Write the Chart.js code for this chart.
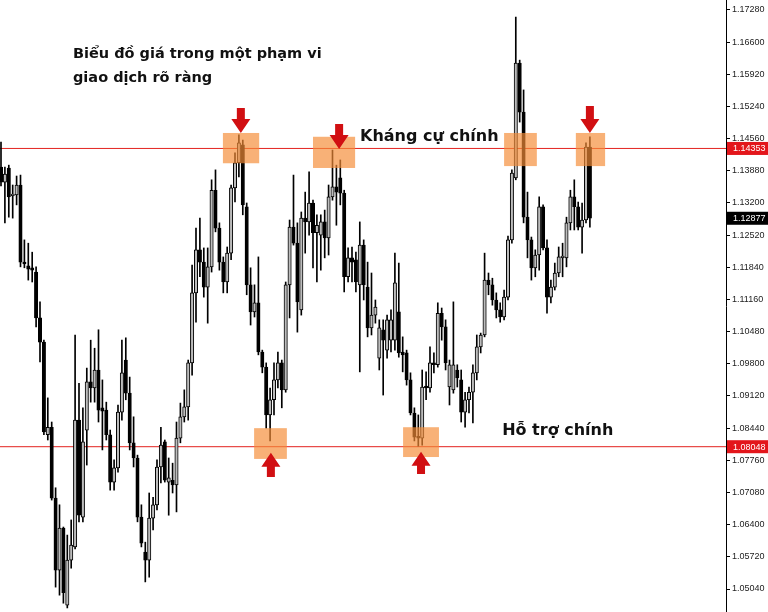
<!DOCTYPE html>
<html>
<head>
<meta charset="utf-8">
<script src="https://cdn.jsdelivr.net/npm/chart.js@4.4.1/dist/chart.umd.min.js"></script>
<style>
  html, body { margin: 0; padding: 0; background: #fff; }
  #wrap { width: 768px; height: 612px; }
</style>
</head>
<body>
<div id="wrap"><canvas id="chart" width="768" height="612"></canvas></div>
<script>
// OHLC, one entry per candle (left to right)
var opens = [
    1.1396,1.1364,1.1394,1.1335,1.1337,1.1358,1.1195,1.1187,1.1183,1.1174,
    1.1077,1.1026,1.0830,1.0846,1.0696,1.0544,1.0633,1.0470,1.0565,1.0593,
    1.0861,1.0656,1.0840,1.0942,1.0929,1.0967,1.0887,1.0882,1.0830,1.0730,
    1.0760,1.0878,1.0988,1.0918,1.0813,1.0781,1.0656,1.0582,1.0565,1.0654,
    1.0682,1.0762,1.0815,1.0730,1.0734,1.0724,1.0823,1.0868,1.0889,1.0982,
    1.1130,1.1221,1.1195,1.1142,1.1185,1.1347,1.1267,1.1195,1.1153,1.1214,
    1.1352,1.1405,1.1443,1.1312,1.1147,1.1090,1.1109,1.1005,1.0973,1.0872,
    1.0904,1.0946,1.0982,1.0925,1.1147,1.1269,1.1235,1.1094,1.1288,1.1280,
    1.1320,1.1257,1.1252,1.1280,1.1246,1.1333,1.1354,1.1373,1.1341,1.1164,
    1.1204,1.1200,1.1147,1.1231,1.1142,1.1056,1.1083,1.0992,1.1052,1.1009,
    1.1030,1.1030,1.1090,1.1005,1.1003,1.0946,1.0876,1.0827,1.0823,1.0933,
    1.0929,1.0982,1.0978,1.1087,1.1058,1.0931,1.0925,1.0967,1.0946,1.0878,
    1.0904,1.0920,1.0961,1.1016,1.1041,1.1157,1.1147,1.1115,1.1094,1.1079,
    1.1121,1.1242,1.1373,1.1616,1.1512,1.1290,1.1242,1.1183,1.1210,1.1312,
    1.1225,1.1121,1.1142,1.1172,1.1204,1.1204,1.1278,1.1333,1.1312,1.1269,
    1.1284,1.1438
];
var highs = [
    1.1449,1.1396,1.1400,1.1358,1.1377,1.1379,1.1242,1.1235,1.1216,1.1185,
    1.1111,1.1030,1.0908,1.0857,1.0718,1.0682,1.0635,1.0618,1.0650,1.1041,
    1.0939,1.0887,1.0971,1.1030,1.1013,1.1052,1.0946,1.0899,1.0840,1.0777,
    1.0893,1.1030,1.1035,1.0952,1.0868,1.0787,1.0682,1.0603,1.0707,1.0698,
    1.0777,1.0846,1.0819,1.0781,1.0770,1.0857,1.0897,1.0925,1.0988,1.1189,
    1.1267,1.1288,1.1225,1.1225,1.1369,1.1390,1.1278,1.1206,1.1227,1.1358,
    1.1426,1.1464,1.1453,1.1320,1.1183,1.1147,1.1206,1.1009,1.0982,1.0929,
    1.0982,1.1005,1.0988,1.1153,1.1284,1.1379,1.1278,1.1301,1.1343,1.1386,
    1.1326,1.1295,1.1295,1.1305,1.1358,1.1432,1.1400,1.1411,1.1347,1.1225,
    1.1227,1.1216,1.1280,1.1242,1.1195,1.1172,1.1115,1.1073,1.1073,1.1083,
    1.1094,1.1214,1.1193,1.1037,1.1009,1.0961,1.0887,1.0872,1.0967,1.0963,
    1.1016,1.1003,1.1109,1.1098,1.1073,1.0988,1.1111,1.0978,1.0967,1.0920,
    1.0931,1.0978,1.1041,1.1045,1.1214,1.1172,1.1161,1.1130,1.1109,1.1136,
    1.1250,1.1390,1.1713,1.1622,1.1559,1.1343,1.1248,1.1221,1.1333,1.1316,
    1.1242,1.1157,1.1193,1.1227,1.1235,1.1290,1.1347,1.1369,1.1322,1.1320,
    1.1447,1.1460
];
var lows = [
    1.1356,1.1278,1.1290,1.1288,1.1316,1.1185,1.1183,1.1157,1.1153,1.1058,
    1.0984,1.0830,1.0819,1.0692,1.0508,1.0491,1.0474,1.0464,1.0548,1.0589,
    1.0646,1.0646,1.0766,1.0899,1.0899,1.0857,1.0798,1.0819,1.0713,1.0713,
    1.0751,1.0861,1.0904,1.0798,1.0762,1.0646,1.0593,1.0519,1.0529,1.0629,
    1.0671,1.0728,1.0730,1.0660,1.0707,1.0667,1.0813,1.0857,1.0861,1.0956,
    1.1068,1.1164,1.1121,1.1066,1.1174,1.1259,1.1178,1.1130,1.1130,1.1200,
    1.1322,1.1375,1.1295,1.1126,1.1062,1.1079,1.0999,1.0961,1.0844,1.0817,
    1.0872,1.0929,1.0887,1.0920,1.1077,1.1231,1.1047,1.1083,1.1214,1.1252,
    1.1183,1.1153,1.1178,1.1204,1.1210,1.1326,1.1273,1.1316,1.1132,1.1153,
    1.1153,1.1132,1.0963,1.1115,1.1037,1.1041,1.1066,1.0967,1.0914,1.0992,
    1.1005,1.1009,1.0994,1.0963,1.0935,1.0872,1.0817,1.0806,1.0808,1.0904,
    1.0920,1.0961,1.0973,1.1030,1.0967,1.0893,1.0918,1.0931,1.0857,1.0846,
    1.0876,1.0855,1.0946,1.1003,1.1037,1.1126,1.1104,1.1077,1.1068,1.1073,
    1.1115,1.1235,1.1369,1.1491,1.1278,1.1204,1.1157,1.1164,1.1178,1.1221,
    1.1087,1.1109,1.1136,1.1164,1.1164,1.1185,1.1263,1.1263,1.1263,1.1214,
    1.1278,1.1269
];
var closes = [
    1.1364,1.1381,1.1333,1.1339,1.1358,1.1195,1.1191,1.1180,1.1178,1.1077,
    1.1026,1.0836,1.0846,1.0696,1.0544,1.0633,1.0496,1.0565,1.0597,1.0861,
    1.0660,1.0815,1.0942,1.0929,1.0967,1.0882,1.0880,1.0830,1.0730,1.0760,
    1.0878,1.0961,1.0918,1.0813,1.0781,1.0656,1.0601,1.0565,1.0654,1.0682,
    1.0762,1.0808,1.0734,1.0739,1.0724,1.0823,1.0868,1.0889,1.0982,1.1130,
    1.1221,1.1195,1.1142,1.1185,1.1347,1.1267,1.1195,1.1153,1.1214,1.1352,
    1.1405,1.1447,1.1316,1.1147,1.1090,1.1109,1.1005,1.0973,1.0872,1.0904,
    1.0946,1.0982,1.0925,1.1147,1.1269,1.1235,1.1111,1.1288,1.1280,1.1320,
    1.1257,1.1273,1.1280,1.1246,1.1333,1.1354,1.1343,1.1341,1.1164,1.1204,
    1.1195,1.1153,1.1231,1.1147,1.1056,1.1083,1.1100,1.1056,1.1030,1.1073,
    1.1073,1.1151,1.1003,1.0999,1.0946,1.0876,1.0825,1.0823,1.0931,1.0929,
    1.0982,1.0978,1.1087,1.1058,1.0982,1.0978,1.0978,1.0950,1.0878,1.0904,
    1.0920,1.0961,1.1016,1.1041,1.1157,1.1147,1.1115,1.1094,1.1079,1.1121,
    1.1242,1.1383,1.1616,1.1512,1.1290,1.1242,1.1183,1.1210,1.1312,1.1225,
    1.1121,1.1142,1.1172,1.1206,1.1208,1.1278,1.1333,1.1312,1.1269,1.1284,
    1.1438,1.12877
];

// price axis
var yTicks = [1.05040,1.05720,1.06400,1.07080,1.07760,1.08440,1.09120,1.09800,1.10480,
              1.11160,1.11840,1.12520,1.13200,1.13880,1.14560,1.15240,1.15920,1.16600,1.17280];
var yMin = 1.04554;
var yMax = 1.17491;
var xMin = -0.256;
var xMax = 185.9;

// levels
var resistance = 1.14353;
var support = 1.08048;
var lastPrice = 1.12877;

// notes drawn on top: [candle from, candle to, price top, price bottom]
var zones = [
    [56.9, 66.2, 1.1468, 1.1404],
    [80.0, 90.8, 1.1460, 1.1394],
    [129.0, 137.4, 1.1468, 1.1398],
    [147.4, 154.9, 1.1468, 1.1398],
    [64.9, 73.3, 1.0844, 1.0779],
    [103.1, 112.3, 1.0846, 1.0783]
];
// [candle, tip price, tail price]
var arrows = [
    [61.5, 1.1468, 1.1521],
    [86.7, 1.1434, 1.1487],
    [151.0, 1.1468, 1.1525],
    [69.2, 1.0792, 1.0741],
    [107.7, 1.0794, 1.0747]
];
// [text, candle, price(baseline), size]
var notes = [
    ["Biểu đồ giá trong một phạm vi", 18.46, 1.16265, 14.5],
    ["giao dịch rõ ràng", 18.46, 1.15758, 14.5],
    ["Kháng cự chính", 92.05, 1.1451, 16],
    ["Hỗ trợ chính", 128.5, 1.0830, 16]
];

var tickFont = {family: "Liberation Sans", size: 9};

var bodies = opens.map(function (o, i) { return {x: i, y: [o, closes[i]]}; });
var wicks = opens.map(function (o, i) { return {x: i, y: [lows[i], highs[i]]}; });

function levelLine(v) {
    return [{x: xMin, y: v}, {x: xMax, y: v}];
}

var overlay = {
    id: 'overlay',
    afterDatasetsDraw: function (chart) {
        var ctx = chart.ctx;
        var x = chart.scales.x, y = chart.scales.y;
        ctx.save();

        ctx.fillStyle = 'rgba(245,140,55,0.68)';
        zones.forEach(function (z) {
            var x0 = x.getPixelForValue(z[0]), x1 = x.getPixelForValue(z[1]);
            var y0 = y.getPixelForValue(z[2]), y1 = y.getPixelForValue(z[3]);
            ctx.fillRect(x0, y0, x1 - x0, y1 - y0);
        });

        ctx.fillStyle = '#d10f12';
        arrows.forEach(function (a) {
            var cx = x.getPixelForValue(a[0]);
            var tip = y.getPixelForValue(a[1]);
            var tail = y.getPixelForValue(a[2]);
            var d = tail > tip ? 1 : -1;
            var base = tip + d * 14;
            ctx.beginPath();
            ctx.moveTo(cx - 4, tail);
            ctx.lineTo(cx + 4, tail);
            ctx.lineTo(cx + 4, base);
            ctx.lineTo(cx + 9.5, base);
            ctx.lineTo(cx, tip);
            ctx.lineTo(cx - 9.5, base);
            ctx.lineTo(cx - 4, base);
            ctx.closePath();
            ctx.fill();
        });

        ctx.fillStyle = '#111';
        ctx.textBaseline = 'alphabetic';
        ctx.textAlign = 'left';
        notes.forEach(function (n) {
            ctx.font = 'bold ' + n[3] + 'px "DejaVu Sans"';
            ctx.fillText(n[0], x.getPixelForValue(n[1]), y.getPixelForValue(n[2]));
        });
        ctx.restore();
    },
    afterDraw: function (chart) {
        var ctx = chart.ctx;
        var y = chart.scales.y;
        var left = chart.chartArea.right + 1;
        ctx.save();
        ctx.font = tickFont.size + 'px "' + tickFont.family + '"';
        ctx.textBaseline = 'middle';
        [[resistance, '#e3161b'], [lastPrice, '#000'], [support, '#e3161b']].forEach(function (t) {
            var py = y.getPixelForValue(t[0]);
            ctx.fillStyle = t[1];
            ctx.fillRect(left, py - 6.5, chart.width - left, 13);
            ctx.fillStyle = '#fff';
            ctx.fillText(t[0].toFixed(5), left + 6, py + 0.5);
        });
        ctx.restore();
    }
};

new Chart(document.getElementById('chart'), {
    type: 'bar',
    data: {
        datasets: [
            {
                type: 'line',
                data: levelLine(resistance),
                borderColor: '#e3221f',
                borderWidth: 1,
                pointRadius: 0,
                order: 3
            },
            {
                type: 'line',
                data: levelLine(support),
                borderColor: '#e3221f',
                borderWidth: 1,
                pointRadius: 0,
                order: 3
            },
            {
                data: wicks,
                backgroundColor: '#000',
                barThickness: 1,
                grouped: false,
                order: 2
            },
            {
                data: bodies,
                backgroundColor: function (c) {
                    var i = c.dataIndex;
                    return closes[i] >= opens[i] ? '#bcbcbc' : '#000';
                },
                borderColor: '#000',
                borderWidth: 1,
                borderSkipped: false,
                barThickness: 3.4,
                grouped: false,
                order: 1
            }
        ]
    },
    options: {
        responsive: false,
        animation: false,
        events: [],
        layout: { padding: 0 },
        plugins: {
            legend: { display: false },
            tooltip: { enabled: false }
        },
        scales: {
            x: {
                type: 'linear',
                display: false,
                offset: false,
                min: xMin,
                max: xMax
            },
            y: {
                position: 'right',
                min: yMin,
                max: yMax,
                afterBuildTicks: function (s) {
                    s.ticks = yTicks.map(function (v) { return {value: v}; });
                },
                afterFit: function (s) {
                    s.width = 42;
                    s.paddingTop = 0;
                    s.paddingBottom = 0;
                },
                ticks: {
                    color: '#222',
                    padding: 2,
                    font: tickFont,
                    callback: function (v) { return Number(v).toFixed(5); }
                },
                grid: {
                    drawOnChartArea: false,
                    drawTicks: true,
                    tickLength: 4,
                    color: '#000'
                },
                border: { color: '#000', width: 1 }
            }
        }
    },
    plugins: [overlay]
});
</script>
</body>
</html>
